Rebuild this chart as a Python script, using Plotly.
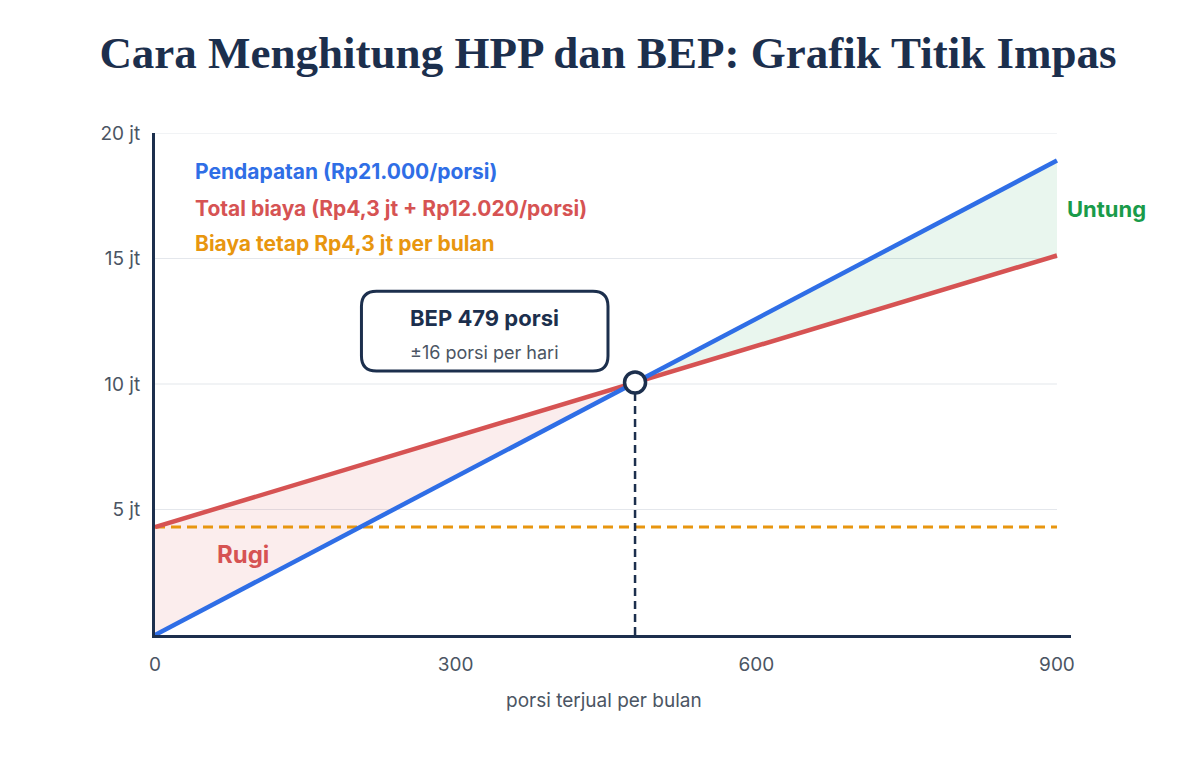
import plotly.graph_objects as go

# Data (nilai dalam juta rupiah)
porsi = [0, 479, 900]
pendapatan = [0, 10.06, 18.9]
total_biaya = [4.3, 10.06, 15.12]
biaya_tetap = [4.3, 4.3]
porsi_tetap = [0, 900]
bep_porsi = 479
bep_nilai = 10.06

y_ticks = [5, 10, 15, 20]
y_labels = ["5 jt", "10 jt", "15 jt", "20 jt"]
x_ticks = [0, 300, 600, 900]
x_labels = ["0", "300", "600", "900"]

NAVY = "#1c2f4d"
BLUE = "#2f6ee6"
RED = "#d65353"
ORANGE = "#e8960f"
GREEN = "#1a9b4a"
GRAY = "#4b5563"
SANS = "Inter"

fig = go.Figure()

# area rugi (antara biaya dan pendapatan, sebelum BEP)
fig.add_trace(go.Scatter(x=porsi[:2], y=pendapatan[:2], mode="lines",
                         line=dict(width=0), hoverinfo="skip", showlegend=False))
fig.add_trace(go.Scatter(x=porsi[:2], y=total_biaya[:2], mode="lines", fill="tonexty",
                         fillcolor="rgba(220,80,80,0.10)",
                         line=dict(width=0), hoverinfo="skip", showlegend=False))
# area untung (setelah BEP)
fig.add_trace(go.Scatter(x=porsi[1:], y=total_biaya[1:], mode="lines",
                         line=dict(width=0), hoverinfo="skip", showlegend=False))
fig.add_trace(go.Scatter(x=porsi[1:], y=pendapatan[1:], mode="lines", fill="tonexty",
                         fillcolor="rgba(40,170,90,0.10)",
                         line=dict(width=0), hoverinfo="skip", showlegend=False))

# garis biaya tetap
fig.add_trace(go.Scatter(x=porsi_tetap, y=biaya_tetap, mode="lines",
                         line=dict(color=ORANGE, width=3, dash="10px,6px"), showlegend=False))
# garis total biaya
fig.add_trace(go.Scatter(x=porsi, y=total_biaya, mode="lines",
                         line=dict(color=RED, width=4.5), showlegend=False))
# garis pendapatan
fig.add_trace(go.Scatter(x=porsi, y=pendapatan, mode="lines",
                         line=dict(color=BLUE, width=4.5), showlegend=False))
# garis putus-putus BEP
fig.add_trace(go.Scatter(x=[bep_porsi, bep_porsi], y=[0, bep_nilai], mode="lines",
                         line=dict(color=NAVY, width=2.5, dash="8px,5px"), showlegend=False))
# titik BEP
fig.add_trace(go.Scatter(x=[bep_porsi], y=[bep_nilai], mode="markers",
                         marker=dict(size=21, color="white", line=dict(color=NAVY, width=3.5)),
                         showlegend=False))

# gridlines manual (berhenti di 900)
for t in y_ticks:
    fig.add_shape(type="line", x0=0, x1=900, y0=t, y1=t, xref="x", yref="y",
                  line=dict(color="#e4e7ec", width=1.2), layer="below")

# kotak BEP dengan sudut membulat
bx0, bx1, by0, by1 = 206, 452, 10.52, 13.7
rx, ry = 15, 0.6
path = (f"M {bx0+rx},{by1} L {bx1-rx},{by1} Q {bx1},{by1} {bx1},{by1-ry} "
        f"L {bx1},{by0+ry} Q {bx1},{by0} {bx1-rx},{by0} "
        f"L {bx0+rx},{by0} Q {bx0},{by0} {bx0},{by0+ry} "
        f"L {bx0},{by1-ry} Q {bx0},{by1} {bx0+rx},{by1} Z")
fig.add_shape(type="path", path=path, xref="x", yref="y",
              line=dict(color=NAVY, width=3), fillcolor="white", layer="above")

annotations = [
    dict(x=329, y=12.63, text="<b>BEP 479 porsi</b>", font=dict(size=22, color=NAVY, family=SANS)),
    dict(x=329, y=11.27, text="±16 porsi per hari", font=dict(size=18, color=GRAY, family=SANS)),
    dict(x=38, y=18.45, text="<b>Pendapatan (Rp21.000/porsi)</b>", xanchor="left",
         font=dict(size=21, color=BLUE, family=SANS)),
    dict(x=38, y=17.0, text="<b>Total biaya (Rp4,3 jt + Rp12.020/porsi)</b>", xanchor="left",
         font=dict(size=21, color=RED, family=SANS)),
    dict(x=38, y=15.6, text="<b>Biaya tetap Rp4,3 jt per bulan</b>", xanchor="left",
         font=dict(size=21, color=ORANGE, family=SANS)),
    dict(x=88, y=3.2, text="<b>Rugi</b>", font=dict(size=24, color=RED, family=SANS)),
    dict(x=1.039, xref="paper", y=16.98, text="<b>Untung</b>",
         font=dict(size=22, color=GREEN, family=SANS)),
    dict(x=0.49, xref="paper", y=-0.1295, yref="paper", yanchor="middle",
         text="porsi terjual per bulan", font=dict(size=19, color=GRAY, family=SANS)),
]
for a in annotations:
    a.setdefault("xref", "x")
    a.setdefault("yref", "y")
    a.setdefault("xanchor", "center")
    a.setdefault("yanchor", "middle")
    a["showarrow"] = False
    fig.add_annotation(**a)

fig.update_layout(
    width=1200, height=760,
    paper_bgcolor="white", plot_bgcolor="white",
    margin=dict(l=147, r=137, t=125, b=133),
    title=dict(text="<b>Cara Menghitung HPP dan BEP: Grafik Titik Impas</b>",
               x=0.5, xanchor="center", y=0.942, yanchor="middle",
               font=dict(family="Liberation Serif", size=45, color=NAVY)),
    xaxis=dict(range=[0, 914], tickvals=x_ticks, ticktext=x_labels, showgrid=False,
               zeroline=False, showline=True, linecolor=NAVY, linewidth=3,
               ticks="", ticklabelstandoff=10,
               tickfont=dict(size=19, color=GRAY, family=SANS)),
    yaxis=dict(range=[0, 20], tickvals=y_ticks, ticktext=y_labels, showgrid=False,
               zeroline=False, showline=True, linecolor=NAVY, linewidth=3,
               ticks="", ticklabelstandoff=8,
               tickfont=dict(size=19, color=GRAY, family=SANS)),
    showlegend=False,
)

fig.write_html("out.html")
